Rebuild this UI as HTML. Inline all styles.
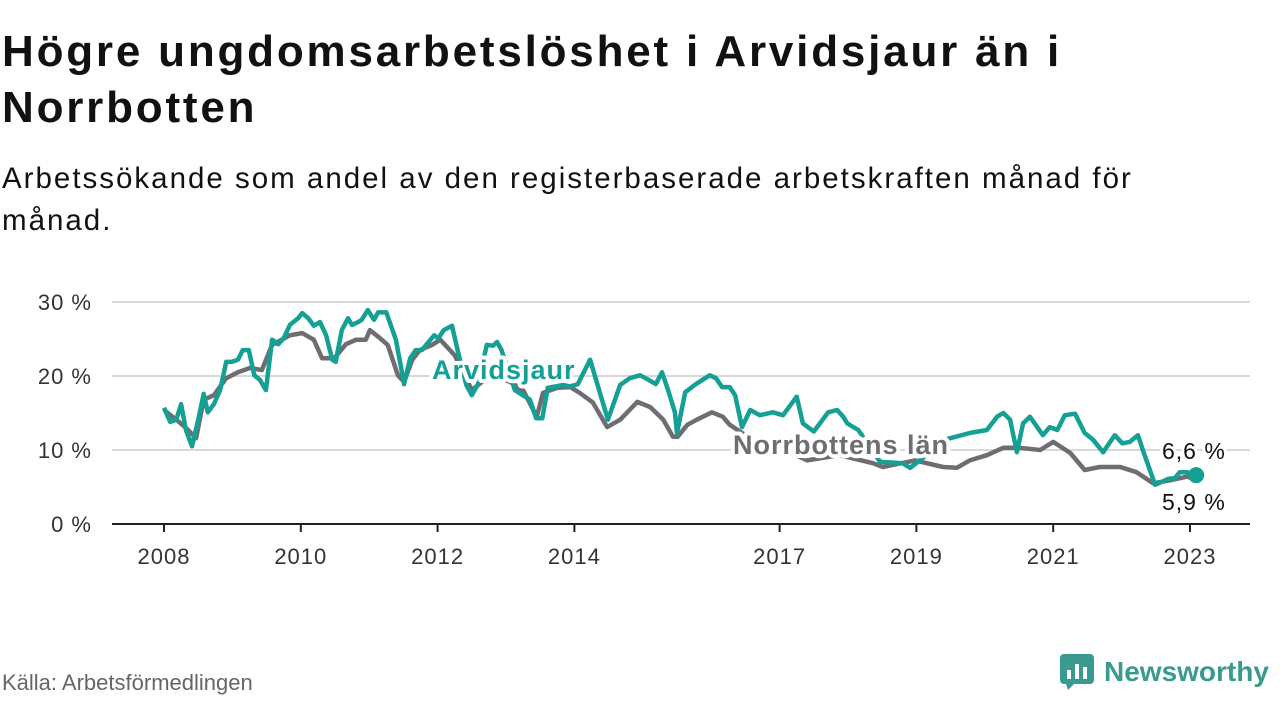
<!DOCTYPE html>
<html><head><meta charset="utf-8"><style>
body{margin:0;width:1280px;height:720px;background:#fff;font-family:"Liberation Sans","DejaVu Sans",sans-serif;overflow:hidden;position:relative}
h1{position:absolute;left:2px;top:24px;margin:0;font-size:44px;letter-spacing:2.8px;line-height:56px;font-weight:bold;color:#111;width:1100px}
.sub{position:absolute;left:2px;top:158px;margin:0;font-size:29.5px;letter-spacing:2px;line-height:42px;color:#111;width:1200px}
.src{position:absolute;left:2px;top:670px;font-size:22px;color:#666}
.logo{position:absolute;left:1060px;top:654px;display:flex;align-items:center}
.logo span{font-size:28px;font-weight:bold;color:#3a9a8f;margin-left:10px}
</style></head><body>
<h1>Högre ungdomsarbetslöshet i Arvidsjaur än i Norrbotten</h1>
<p class="sub">Arbetssökande som andel av den registerbaserade arbetskraften månad för månad.</p>
<svg id="chart" width="1280" height="720" style="position:absolute;left:0;top:0"></svg>
<div class="src">Källa: Arbetsförmedlingen</div>
<div class="logo">
<svg width="34" height="36"><rect x="0" y="0" width="34" height="30" rx="4" fill="#3a9a8f"/><polygon points="6,30 14,30 8,36" fill="#3a9a8f"/><rect x="7" y="16" width="4" height="9" fill="#fff"/><rect x="15" y="10" width="4" height="15" fill="#fff"/><rect x="23" y="13" width="4" height="12" fill="#fff"/></svg>
<span>Newsworthy</span></div>
<script>
const yTicks=[0,10,20,30];
const xTickYears=[2008,2010,2012,2014,2017,2019,2021,2023];
const arvT=[2008.00,2008.09,2008.18,2008.25,2008.32,2008.41,2008.50,2008.58,2008.64,2008.73,2008.82,2008.91,2008.99,2009.08,2009.15,2009.24,2009.32,2009.40,2009.49,2009.58,2009.67,2009.75,2009.84,2009.96,2010.02,2010.11,2010.19,2010.28,2010.37,2010.46,2010.51,2010.60,2010.69,2010.75,2010.84,2010.89,2010.98,2011.07,2011.13,2011.25,2011.39,2011.51,2011.60,2011.68,2011.77,2011.86,2011.95,2012.01,2012.09,2012.21,2012.30,2012.42,2012.50,2012.59,2012.72,2012.81,2012.87,2012.93,2013.13,2013.18,2013.35,2013.44,2013.53,2013.61,2013.73,2013.83,2013.94,2014.05,2014.23,2014.49,2014.67,2014.81,2014.96,2015.08,2015.19,2015.28,2015.37,2015.47,2015.50,2015.62,2015.76,2015.84,2015.98,2016.07,2016.16,2016.27,2016.35,2016.45,2016.57,2016.71,2016.90,2017.05,2017.25,2017.34,2017.50,2017.71,2017.84,2017.93,2017.99,2018.15,2018.47,2018.80,2018.91,2019.05,2019.42,2019.78,2020.03,2020.18,2020.27,2020.37,2020.47,2020.56,2020.66,2020.85,2020.95,2021.06,2021.17,2021.32,2021.46,2021.58,2021.73,2021.90,2022.01,2022.12,2022.24,2022.31,2022.49,2022.68,2022.78,2022.85,2022.96,2023.09];
const arvV=[15.7,13.8,14.1,16.2,12.7,10.5,14.1,17.6,15.1,16.2,18.1,21.9,21.9,22.2,23.5,23.5,20.1,19.5,18.1,24.9,24.3,25.1,26.9,27.8,28.5,27.8,26.8,27.3,25.5,22.2,21.9,26.2,27.8,26.9,27.3,27.6,28.9,27.6,28.6,28.6,24.9,18.9,22.4,23.5,23.5,24.5,25.5,25.1,26.2,26.8,23.2,18.8,17.4,18.9,24.2,24.1,24.6,23.6,18.1,17.8,16.8,14.3,14.3,18.4,18.6,18.8,18.6,18.9,22.2,14.1,18.8,19.7,20.1,19.5,18.9,20.5,18.1,15.1,12.3,17.8,18.8,19.3,20.1,19.7,18.5,18.5,17.4,13.1,15.4,14.7,15.1,14.7,17.2,13.6,12.5,15.1,15.4,14.5,13.6,12.7,8.4,8.2,7.6,8.6,11.4,12.3,12.7,14.5,15.0,14.1,9.7,13.6,14.5,12.0,13.1,12.7,14.7,14.9,12.3,11.4,9.7,12.0,10.9,11.1,12.0,10.0,5.3,6.1,6.2,7.0,7.0,6.6];
const norT=[2008.00,2008.18,2008.32,2008.47,2008.58,2008.73,2008.91,2009.08,2009.26,2009.43,2009.58,2009.84,2010.02,2010.19,2010.31,2010.49,2010.66,2010.81,2010.95,2011.01,2011.16,2011.27,2011.42,2011.51,2011.63,2011.74,2011.92,2012.04,2012.25,2012.50,2012.77,2013.06,2013.25,2013.45,2013.54,2013.75,2013.94,2014.08,2014.27,2014.48,2014.67,2014.92,2015.11,2015.30,2015.44,2015.51,2015.65,2015.79,2016.01,2016.17,2016.27,2016.71,2017.15,2017.40,2017.88,2018.37,2018.51,2018.98,2019.39,2019.59,2019.78,2020.03,2020.27,2020.51,2020.81,2021.00,2021.25,2021.46,2021.68,2021.98,2022.22,2022.46,2022.71,2022.96,2023.09];
const norV=[15.4,14.1,13.0,11.6,16.8,17.4,19.7,20.5,21.1,20.8,24.2,25.5,25.8,24.9,22.4,22.4,24.3,24.9,24.9,26.2,25.1,24.2,20.1,19.2,22.2,23.5,24.2,24.9,22.8,18.1,20.1,19.2,18.1,14.5,17.7,18.4,18.5,17.7,16.4,13.1,14.1,16.5,15.8,14.1,11.8,11.8,13.4,14.1,15.1,14.5,13.4,10.7,9.7,8.6,9.3,8.2,7.7,8.6,7.7,7.6,8.6,9.3,10.3,10.3,10.0,11.1,9.6,7.3,7.7,7.7,7.0,5.5,5.9,6.4,5.9];
const svg=document.getElementById('chart');const NS='http://www.w3.org/2000/svg';
const X=t=>164+(t-2008)*68.4;const Y=v=>524-v*7.4;
function mk(tag,attrs){const e=document.createElementNS(NS,tag);for(const k in attrs)e.setAttribute(k,attrs[k]);svg.appendChild(e);return e;}
yTicks.forEach(v=>{
 if(v>0){const g=mk('line',{x1:112,x2:1250,y1:Y(v),y2:Y(v),stroke:'#d8d8d8','stroke-width':2});
 
 }
 const t=mk('text',{x:92,y:Y(v)+8,'text-anchor':'end','font-size':22,'letter-spacing':1,fill:'#333'});t.textContent=v+' %';
 
 
});
const ax=mk('line',{x1:112,x2:1250,y1:524,y2:524,stroke:'#222','stroke-width':2});


xTickYears.forEach(yr=>{
 const tk=mk('line',{x1:X(yr),x2:X(yr),y1:524,y2:532,stroke:'#222','stroke-width':2});
 
 
 const t=mk('text',{x:X(yr),y:564,'text-anchor':'middle','font-size':22,'letter-spacing':1,fill:'#333'});t.textContent=yr;
 
 
});
function line(T,V,col,name){const d=T.map((t,i)=>(i?'L':'M')+X(t).toFixed(1)+','+Y(V[i]).toFixed(1)).join('');
 const p=mk('path',{d:d,fill:'none',stroke:col,'stroke-width':4.5,'stroke-linejoin':'round'});
 
 }
line(norT,norV,'#6e6d72','series-norrbotten');
line(arvT,arvV,'#14a094','series-arvidsjaur');
const dot=mk('circle',{cx:X(arvT[arvT.length-1]),cy:Y(arvV[arvV.length-1]),r:8,fill:'#14a094'});


function lbl(x,y,txt,col,bold,name,size,ls){const t=mk('text',{x:x,y:y,'font-size':size||27,'letter-spacing':ls||1,'font-weight':bold?'bold':'normal',fill:col,stroke:'#fff','stroke-width':bold?8:6,'paint-order':'stroke','stroke-linejoin':'round'});t.textContent=txt;
 
 }
lbl(432,379,'Arvidsjaur','#14a094',true,'arvidsjaur-label');
lbl(733,454,'Norrbottens län','#6e6d72',true,'norrbotten-label');
lbl(1162,459,'6,6 %','#111',false,'arvidsjaur-end-value',23);
lbl(1162,510,'5,9 %','#111',false,'norrbotten-end-value',23);
</script>
</body></html>
